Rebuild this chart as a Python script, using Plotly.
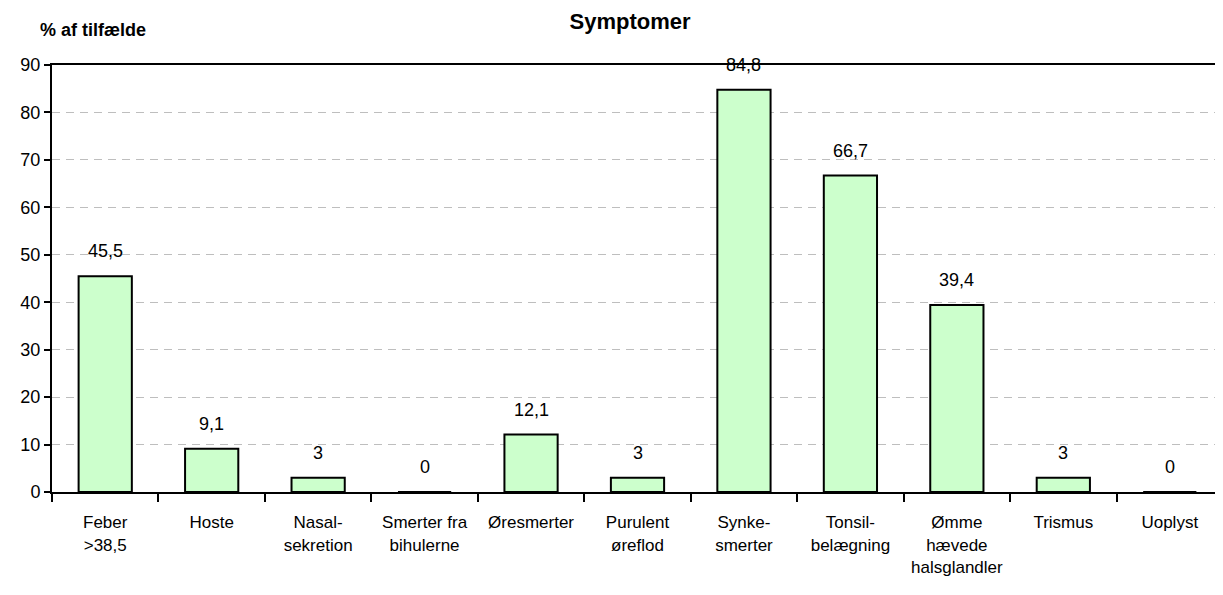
import plotly.graph_objects as go

categories = ["Feber<br>>38,5", "Hoste", "Nasal-<br>sekretion", "Smerter fra<br>bihulerne",
              "Øresmerter", "Purulent<br>øreflod", "Synke-<br>smerter", "Tonsil-<br>belægning",
              "Ømme<br>hævede<br>halsglandler", "Trismus", "Uoplyst"]
values = [45.5, 9.1, 3, 0, 12.1, 3, 84.8, 66.7, 39.4, 3, 0]
y_ticks = [0, 10, 20, 30, 40, 50, 60, 70, 80, 90]

def fmt(v):
    return str(int(v)) if float(v).is_integer() else str(v).replace(".", ",")

fig = go.Figure()
fig.add_trace(go.Bar(
    x=categories, y=values,
    marker=dict(color="#CCFFCC", line=dict(color="black", width=2)),
    width=0.5,
))

for c, v in zip(categories, values):
    fig.add_annotation(x=c, y=v, text=fmt(v), showarrow=False, yshift=25,
                       yanchor="middle", font=dict(size=18, color="black"))

fig.add_annotation(xref="paper", yref="paper", x=-0.012, y=1.0, yshift=35,
                   xanchor="left", yanchor="middle", text="<b>% af tilfælde</b>",
                   showarrow=False, font=dict(size=18, color="black"))

fig.update_layout(
    width=1215, height=587,
    margin=dict(l=44, r=0, t=57, b=103, autoexpand=False),
    paper_bgcolor="white", plot_bgcolor="white",
    font=dict(family="Liberation Sans, Arial, sans-serif", color="black"),
    title=dict(text="<b>Symptomer</b>", x=0.512, xanchor="center", y=0.978, yanchor="middle",
               font=dict(size=22, color="black")),
    showlegend=False,
)
fig.update_xaxes(showline=True, linecolor="black", linewidth=2, mirror=True,
                 ticks="outside", tickson="boundaries", ticklen=8, tickcolor="black", tickwidth=1.5,
                 tickfont=dict(size=17), tickangle=0, ticklabelstandoff=14,
                 showgrid=False, automargin=False)
fig.update_yaxes(range=[0, 90], tickvals=y_ticks, showline=True, linecolor="black", linewidth=2,
                 ticks="outside", ticklen=6, tickcolor="black", tickwidth=1.5,
                 showgrid=True, gridcolor="#BEBEBE", griddash="8px,6px", gridwidth=1,
                 tickfont=dict(size=18), zeroline=False, automargin=False)

fig.write_html("out.html")
